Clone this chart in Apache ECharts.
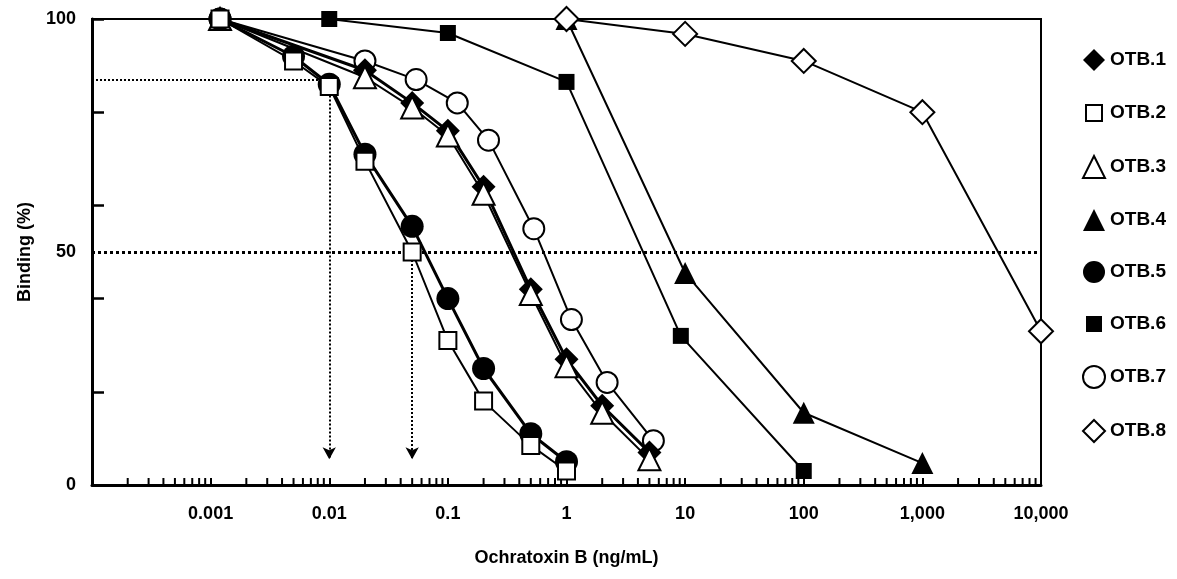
<!DOCTYPE html>
<html>
<head>
<meta charset="utf-8">
<script src="https://cdn.jsdelivr.net/npm/echarts@6/dist/echarts.min.js"></script>
<style>
html, body { margin: 0; padding: 0; background: #fff; }
#chart { width: 1177px; height: 579px; }
</style>
</head>
<body>
<div id="chart"></div>
<script>
// values: x = Ochratoxin B (ng/mL), y = binding (%)
const otb1X = [0.0012, 0.02, 0.05, 0.1, 0.2, 0.5, 1, 2, 5];
const otb1Y = [100, 89, 82, 76, 64, 42, 27, 17, 7];
const otb2X = [0.0012, 0.005, 0.01, 0.02, 0.05, 0.1, 0.2, 0.5, 1];
const otb2Y = [100, 91, 85.5, 69.5, 50, 31, 18, 8.5, 3];
const otb3X = [0.0012, 0.02, 0.05, 0.1, 0.2, 0.5, 1, 2, 5];
const otb3Y = [100, 87.5, 81, 75, 62.5, 41, 25.5, 15.5, 5.5];
const otb4X = [1, 10, 100, 1000];
const otb4Y = [100, 45.5, 15.5, 4.7];
const otb5X = [0.0012, 0.005, 0.01, 0.02, 0.05, 0.1, 0.2, 0.5, 1];
const otb5Y = [100, 92, 86, 71, 55.5, 40, 25, 11, 5];
const otb6X = [0.01, 0.1, 1, 9.2, 100];
const otb6Y = [100, 97, 86.5, 32, 3];
const otb7X = [0.0012, 0.02, 0.054, 0.12, 0.22, 0.53, 1.1, 2.2, 5.4];
const otb7Y = [100, 91, 87, 82, 74, 55, 35.5, 22, 9.5];
const otb8X = [1, 10, 100, 1000, 10000];
const otb8Y = [100, 96.8, 91, 80, 33];

// x tick labels, one per decade from 0.0001 to 10000
const xTickLabels = ['', '0.001', '0.01', '0.1', '1', '10', '100', '1,000', '10,000'];
const yLabelTicks = [0, 50, 100];

// dotted guide lines (IC50 and IC15 read-outs)
const halfLevel = 50;
const lowLevel = 87;
const ic15X = 0.01;
const ic50X = 0.05;
const arrowEnd = 5.5;

// minor ticks 2..9 in each decade
const minorTicks = [];
for (let d = -4; d < 4; d++) {
	for (let k = 2; k <= 9; k++) {
		minorTicks.push([k * Math.pow(10, d), 0]);
	}
}

const font = 'Liberation Sans, Arial, Helvetica, sans-serif';

function pairs(xs, ys) {
	return xs.map((x, i) => [x, ys[i]]);
}

function makeSeries(name, xs, ys, symbol, size, filled, width, z) {
	return {
		name: name,
		type: 'line',
		data: pairs(xs, ys),
		symbol: symbol,
		symbolSize: size,
		showSymbol: true,
		z: z,
		lineStyle: { color: '#000', width: width },
		itemStyle: {
			color: filled ? '#000' : '#fff',
			borderColor: '#000',
			borderWidth: filled ? 0 : 2,
			opacity: 1
		},
		emphasis: { disabled: true }
	};
}

const dotted = { color: '#000', width: 2, type: [2, 2] };

const series = [
	makeSeries('OTB.1', otb1X, otb1Y, 'diamond', 24, true, 3, 2.5),
	makeSeries('OTB.2', otb2X, otb2Y, 'rect', 17, false, 2, 5),
	makeSeries('OTB.3', otb3X, otb3Y, 'triangle', 22, false, 2, 3),
	makeSeries('OTB.4', otb4X, otb4Y, 'triangle', 22, true, 2, 3),
	makeSeries('OTB.5', otb5X, otb5Y, 'circle', 23, true, 3, 4),
	makeSeries('OTB.6', otb6X, otb6Y, 'rect', 16, true, 2, 3),
	makeSeries('OTB.7', otb7X, otb7Y, 'circle', 21, false, 2, 2),
	makeSeries('OTB.8', otb8X, otb8Y, 'diamond', 24, false, 2, 3.5),
	{
		name: 'guides',
		type: 'line',
		data: [[1, halfLevel]],
		symbol: 'none',
		lineStyle: { opacity: 0 },
		z: 1,
		silent: true,
		markLine: {
			silent: true,
			symbol: ['none', 'none'],
			label: { show: false },
			emphasis: { disabled: true },
			data: [
				[{ coord: [1e-4, halfLevel], lineStyle: { color: '#000', width: 3, type: [3, 3] } },
				 { coord: [1e4, halfLevel] }],
				[{ coord: [1e-4, lowLevel], lineStyle: dotted }, { coord: [ic15X, lowLevel] }],
				[{ coord: [ic15X, lowLevel], lineStyle: dotted },
				 { coord: [ic15X, arrowEnd], symbol: 'arrow', symbolSize: [10, 12] }],
				[{ coord: [ic50X, halfLevel], lineStyle: dotted },
				 { coord: [ic50X, arrowEnd], symbol: 'arrow', symbolSize: [10, 12] }]
			]
		}
	},
	{
		name: 'minorTicks',
		type: 'custom',
		data: minorTicks,
		silent: true,
		z: 1,
		renderItem: function (params, api) {
			const p = api.coord([api.value(0), 0]);
			return {
				type: 'line',
				shape: { x1: p[0], y1: p[1], x2: p[0], y2: p[1] - 7 },
				style: { stroke: '#000', lineWidth: 2 }
			};
		}
	}
];

// smaller square inside the 22px legend box (move-to points pad the box)
const smallSquare = 'path://M0,0 M22,22 M3,3 L19,3 L19,19 L3,19 Z';
const legendIcons = ['diamond', smallSquare, 'triangle', 'triangle', 'circle', smallSquare, 'circle', 'diamond'];

const option = {
	animation: false,
	backgroundColor: '#fff',
	grid: {
		left: 92,
		right: 136,
		top: 19,
		bottom: 94,
		show: true,
		borderColor: '#000',
		borderWidth: 2
	},
	legend: {
		orient: 'vertical',
		left: 1077,
		top: 44,
		itemWidth: 22,
		itemHeight: 22,
		itemGap: 30,
		itemTextGap: 9,
		selectedMode: false,
		textStyle: { fontFamily: font, fontWeight: 'bold', fontSize: 19, color: '#000' },
		data: legendIcons.map((icon, i) => ({ name: 'OTB.' + (i + 1), icon: icon }))
	},
	xAxis: {
		type: 'log',
		logBase: 10,
		min: 1e-4,
		max: 1e4,
		splitNumber: 8,
		name: 'Ochratoxin B (ng/mL)',
		nameLocation: 'middle',
		nameGap: 64,
		nameTextStyle: { fontFamily: font, fontWeight: 'bold', fontSize: 18, color: '#000' },
		axisLine: { lineStyle: { color: '#000', width: 3 } },
		axisTick: { inside: true, length: 7, lineStyle: { color: '#000', width: 2 } },
		axisLabel: {
			margin: 20,
			fontFamily: font,
			fontWeight: 'bold',
			fontSize: 18,
			color: '#000',
			formatter: function (v) {
				const idx = Math.round(Math.log10(v)) + 4;
				return xTickLabels[idx] || '';
			}
		},
		splitLine: { show: false }
	},
	yAxis: [
		{
			type: 'value',
			min: 0,
			max: 100,
			interval: 20,
			name: 'Binding (%)',
			nameLocation: 'middle',
			nameGap: 58,
			nameTextStyle: { fontFamily: font, fontWeight: 'bold', fontSize: 18, color: '#000' },
			axisLine: { show: true, lineStyle: { color: '#000', width: 3 } },
			axisTick: { inside: true, length: 12, lineStyle: { color: '#000', width: 2.5 } },
			axisLabel: { show: false },
			splitLine: { show: false }
		},
		{
			type: 'value',
			min: yLabelTicks[0],
			max: yLabelTicks[yLabelTicks.length - 1],
			interval: yLabelTicks[1] - yLabelTicks[0],
			position: 'left',
			axisLine: { show: false },
			axisTick: { show: false },
			axisLabel: { margin: 16, fontFamily: font, fontWeight: 'bold', fontSize: 18, color: '#000' },
			splitLine: { show: false }
		}
	],
	series: series
};

const myChart = echarts.init(document.getElementById('chart'));
myChart.setOption(option);
</script>
</body>
</html>
